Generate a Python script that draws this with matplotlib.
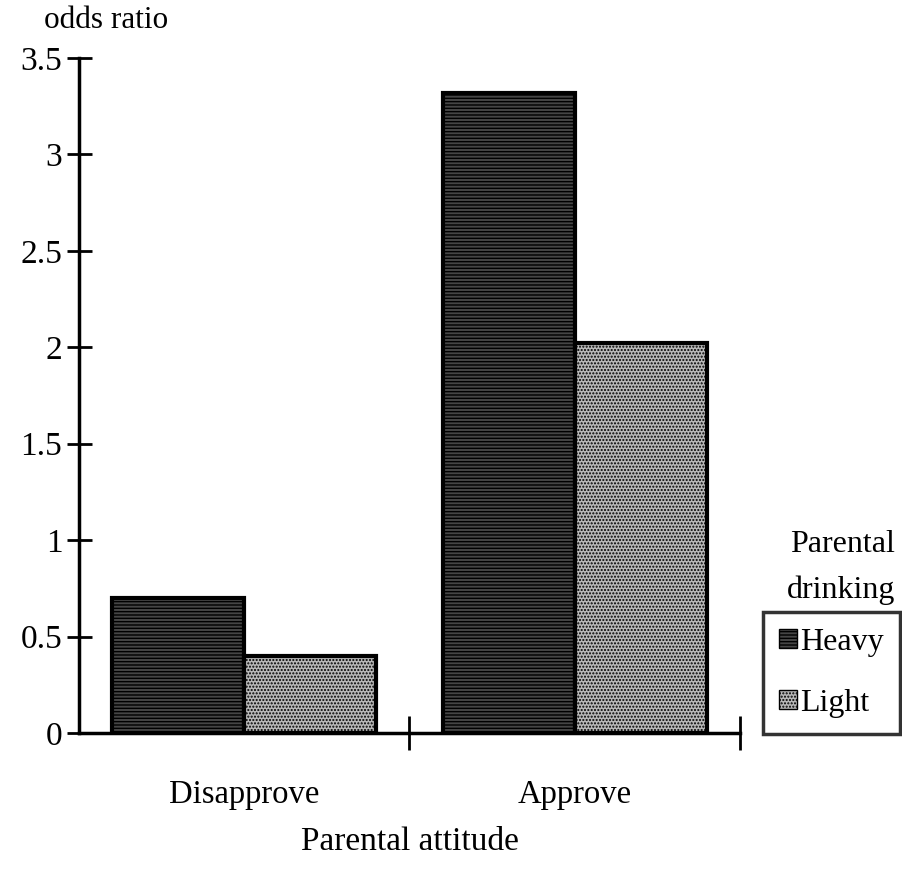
import matplotlib
matplotlib.use("Agg")
import matplotlib.pyplot as plt
from matplotlib.patches import Patch
import numpy as np

categories = ["Disapprove", "Approve"]
series = ["Heavy", "Light"]
heavy = [0.70, 3.32]
light = [0.40, 2.02]
yticks = [0, 0.5, 1, 1.5, 2, 2.5, 3, 3.5]
ytick_labels = ["0", "0.5", "1", "1.5", "2", "2.5", "3", "3.5"]

plt.rcParams['font.family'] = ['Liberation Serif', 'DejaVu Serif']
plt.rcParams['hatch.linewidth'] = 1.0
plt.rcParams['hatch.color'] = 'white'

fig = plt.figure(figsize=(9.03, 8.72), dpi=100)
ax = fig.add_axes([79/903, 1-733/872, (740-79)/903, (733-58)/872])

x = np.arange(len(categories))
w = 0.4
heavy_fc = '#454545'
light_fc = '#b8b8b8'
ax.bar(x + 0.3, heavy, width=w, facecolor=heavy_fc, edgecolor='black',
       linewidth=3, hatch='-----')
ax.bar(x + 0.7, light, width=w, facecolor=light_fc, edgecolor='black',
       linewidth=3, hatch='.....')

ax.set_xlim(0, 2)
ax.set_ylim(0, 3.5)
ax.set_yticks(yticks)
ax.set_yticklabels(ytick_labels, fontsize=24)
ax.set_xticks([1, 2])
ax.set_xticklabels([])
ax.tick_params(axis='y', direction='inout', length=18, width=2, pad=3)
ax.tick_params(axis='x', direction='inout', length=24, width=2)
for s in ['top', 'right']:
    ax.spines[s].set_visible(False)
for s in ['left', 'bottom']:
    ax.spines[s].set_linewidth(2.5)

for i, c in enumerate(categories):
    ax.text(i + 0.5, -0.32, c, ha='center', va='center', fontsize=23.5,
            transform=ax.transData)
fig.text(410/903, 1-842/872, "Parental attitude", ha='center', va='center', fontsize=24)
fig.text(106/903, 1-20/872, "odds ratio", ha='center', va='center', fontsize=22.5)
fig.text(895/903, 1-545/872, "Parental", ha='right', va='center', fontsize=23)
fig.text(895/903, 1-590/872, "drinking", ha='right', va='center', fontsize=23)

handles = [Patch(facecolor=heavy_fc, edgecolor='black', hatch='-----', label='Heavy'),
           Patch(facecolor=light_fc, edgecolor='black', hatch='.....', label='Light')]
leg = fig.legend(handles=handles, loc='upper right', bbox_to_anchor=(900/903, 1-612/872),
                 fontsize=23, frameon=True, fancybox=False, edgecolor='black',
                 handlelength=0.55, handleheight=0.55, handletextpad=0.12,
                 borderpad=0.5, labelspacing=1.0, borderaxespad=0)
leg.get_frame().set_linewidth(2.5)

fig.savefig("out.png", dpi=100, facecolor='white')
